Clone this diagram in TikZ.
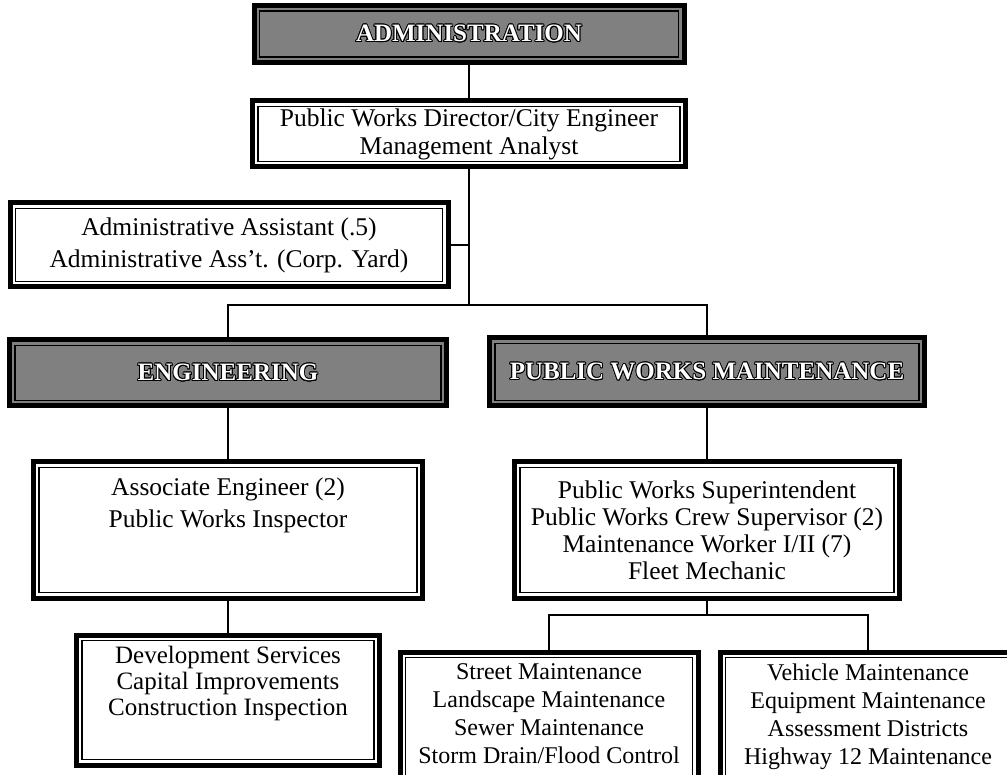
\documentclass[tikz,border=0pt]{standalone}
\usepackage{fontspec}
\setmainfont{Liberation Serif}
\usepackage{contour}
\contourlength{0.9pt}
\usetikzlibrary{positioning}
\newcommand{\hdr}[1]{\contour{black}{#1}}

\begin{document}
\begin{tikzpicture}[x=1pt,y=-1pt,
  frame/.style={draw,line width=5pt,inner sep=0pt,align=center,
    font=\fontsize{25.5}{28}\selectfont,
    path picture={\draw[line width=1.2pt]
      ([shift={(5.5pt,5.5pt)}]path picture bounding box.south west) rectangle
      ([shift={(-5.5pt,-5.5pt)}]path picture bounding box.north east);}},
  unit/.style={frame,fill=white},
  head/.style={frame,fill=black!50,text=white,
    font=\bfseries\fontsize{25}{28}\selectfont},
  txt/.style={inner sep=0pt,align=center,font=\fontsize{24}{28}\selectfont},
  link/.style={line width=1.5pt}]
\useasboundingbox (0,0) rectangle (1007,775);
% top of the chart
\node[head,minimum width=430pt,minimum height=57pt] (admin) at (469,34)
  {\hdr{ADMINISTRATION}};
\node[unit,minimum width=433pt,minimum height=66pt] (director) at (469,134)
  {Public Works Director/City Engineer\\Management Analyst};
\node[unit,minimum width=438pt,minimum height=84pt,
  font=\fontsize{25.5}{32}\selectfont] (assistant) at (229,245)
  {Administrative Assistant (.5)\\Administrative Ass't. (Corp. Yard)};
\coordinate (split) at (469,305);
% the two divisions
\node[head,minimum width=437pt,minimum height=66pt] (eng) at (228,373)
  {\hdr{ENGINEERING}};
\node[head,minimum width=435pt,minimum height=68pt] (pwm) at (707,372)
  {\hdr{PUBLIC WORKS MAINTENANCE}};
\node[unit,minimum width=389pt,minimum height=136pt] (assoc) at (228,530) {};
\node[txt,below=18pt of assoc.north,font=\fontsize{25.5}{32}\selectfont] (assoctxt)
  {Associate Engineer (2)\\Public Works Inspector};
\node[unit,minimum width=385pt,minimum height=136pt,
  font=\fontsize{25.5}{27}\selectfont] (pwsup) at (707,530)
  {Public Works Superintendent\\Public Works Crew Supervisor (2)\\
   Maintenance Worker I/II (7)\\Fleet Mechanic};
% sections
\node[unit,minimum width=303pt,minimum height=130pt] (dev) at (228,700) {};
\node[txt,below=13pt of dev.north,font=\fontsize{25}{26}\selectfont] (devtxt)
  {Development Services\\Capital Improvements\\Construction Inspection};
\coordinate (fork) at (707,615);
\node[unit,minimum width=298pt,minimum height=140pt] (street) at (549,722) {};
\node[txt,below=14pt of street.north] (streettxt)
  {Street Maintenance\\Landscape Maintenance\\Sewer Maintenance\\
   Storm Drain/Flood Control};
\node[unit,minimum width=296pt,minimum height=140pt] (vehicle) at (868,722) {};
\node[txt,below=14pt of vehicle.north] (vehicletxt)
  {Vehicle Maintenance\\Equipment Maintenance\\Assessment Districts\\
   Highway 12 Maintenance};
% connectors
\draw[link] (admin) -- (director);
\draw[link] (director) -- (split);
\draw[link] (assistant.east) -- (assistant.east -| split);
\draw[link] (eng.north) |- (split) -| (pwm.north);
\draw[link] (eng) -- (assoc);
\draw[link] (assoc) -- (dev);
\draw[link] (pwm) -- (pwsup);
\draw[link] (pwsup.south) -- (fork);
\draw[link] (street.north) |- (fork) -| (vehicle.north);
\end{tikzpicture}
\end{document}
